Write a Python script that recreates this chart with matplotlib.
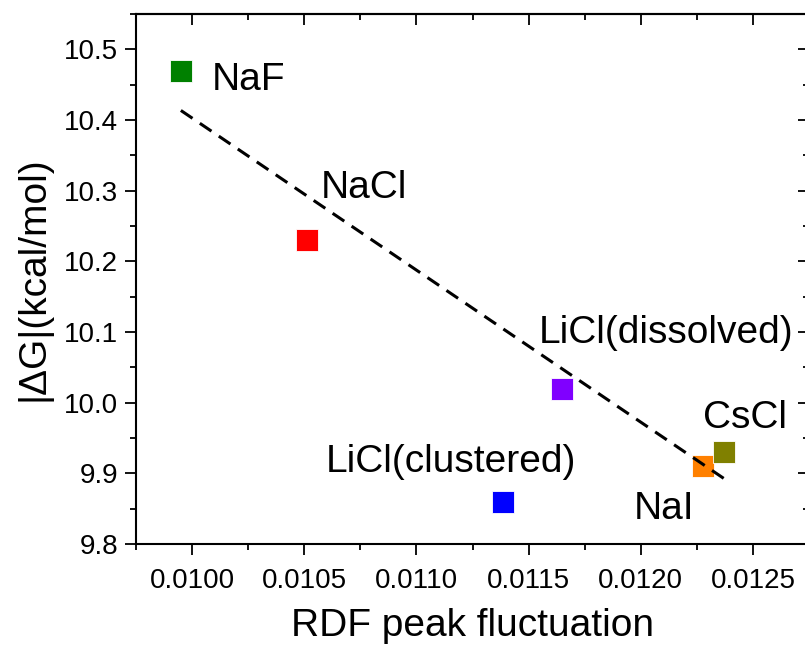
import matplotlib
matplotlib.use("Agg")
import matplotlib.pyplot as plt
import numpy as np

plt.rcParams['font.family'] = ['Liberation Sans', 'DejaVu Sans']

# salts, RDF peak fluctuation and binding free energy
salts = ['NaF', 'NaCl', 'LiCl(dissolved)', 'LiCl(clustered)', 'NaI', 'CsCl']
rdf_fluct = [0.00995, 0.010513, 0.011647, 0.011384, 0.012277, 0.01237]
dG = [10.47, 10.23, 10.02, 9.86, 9.91, 9.93]
colors = ['#008000', '#ff0000', '#8000ff', '#0000ff', '#ff8000', '#808000']
# which salts enter the linear fit
in_fit = [True, True, True, False, True, True]

# label offsets from each marker, in pixels
label_offsets = [(31, -19), (14, 42), (-23, 46), (-177, 30), (-69, -53), (-21, 24)]

fig = plt.figure(figsize=(8.05, 6.46), dpi=100)
ax = fig.add_axes([136 / 805, 102 / 646, 673 / 805, 530 / 646])

for x, y, c in zip(rdf_fluct, dG, colors):
    ax.plot(x, y, 's', color=c, markersize=16.5, markeredgewidth=0.6,
            markeredgecolor='white', zorder=3)

xs = np.array([x for x, f in zip(rdf_fluct, in_fit) if f])
ys = np.array([y for y, f in zip(dG, in_fit) if f])
k, b = np.polyfit(xs, ys, 1)
xl = np.array([xs.min(), xs.max()])
ax.plot(xl, k * xl + b, color='black', lw=2.2, dashes=(4.6, 2.9), zorder=4)

for name, x, y, off in zip(salts, rdf_fluct, dG, label_offsets):
    ax.annotate(name, (x, y), xytext=off, textcoords='offset pixels',
                fontsize=28, ha='left', va='baseline')

ax.set_xlim(0.00975, 0.01275)
ax.set_ylim(9.8, 10.55)
ax.set_xticks(np.arange(0.0100, 0.01251, 0.0005))
ax.set_xticks(np.arange(0.00975, 0.01276, 0.0005), minor=True)
ax.set_yticks(np.arange(9.8, 10.51, 0.1))
ax.set_yticks(np.arange(9.85, 10.55, 0.1), minor=True)
ax.xaxis.set_major_formatter(matplotlib.ticker.FormatStrFormatter('%.4f'))
ax.yaxis.set_major_formatter(matplotlib.ticker.FormatStrFormatter('%.1f'))

for s in ax.spines.values():
    s.set_linewidth(1.5)
ax.tick_params(which='major', direction='out', length=8, width=1.3,
               labelsize=20, pad=5)
ax.tick_params(which='minor', direction='out', length=4.5, width=1.3)
ax.tick_params(axis='x', which='major', pad=9)

# mirrored inward ticks on top and right
top = ax.secondary_xaxis('top')
top.set_xticks(ax.get_xticks())
top.set_xticks(ax.get_xticks(minor=True), minor=True)
top.tick_params(which='major', direction='in', length=8, width=1.3, labeltop=False)
top.tick_params(which='minor', direction='in', length=4.5, width=1.3)
top.spines['top'].set_linewidth(1.5)
right = ax.secondary_yaxis('right')
right.set_yticks(ax.get_yticks())
right.set_yticks(ax.get_yticks(minor=True), minor=True)
right.tick_params(which='major', direction='in', length=8, width=1.3, labelright=False)
right.tick_params(which='minor', direction='in', length=4.5, width=1.3)
right.spines['right'].set_linewidth(1.5)

ax.set_xlabel('RDF peak fluctuation', fontsize=28, labelpad=10)
ax.set_ylabel('|ΔG|(kcal/mol)', fontsize=28, labelpad=9)

fig.savefig('out.png', dpi=100)
